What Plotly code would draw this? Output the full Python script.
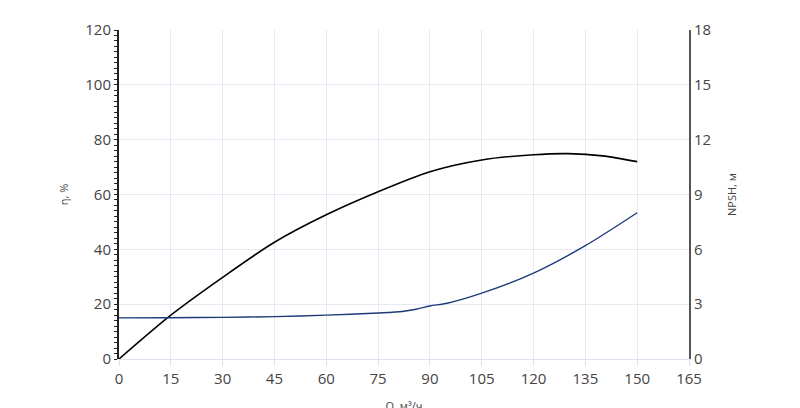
import plotly.graph_objects as go

q_eff = [0, 15, 30, 45, 60, 75, 90, 105, 120, 130, 140, 150]
eff = [0, 16, 29.8, 42.6, 52.6, 61, 68.3, 72.6, 74.5, 74.9, 74.1, 72]
q_npsh = [0, 15, 30, 45, 60, 75, 82, 86, 90, 95, 105, 120, 135, 150]
npsh = [2.25, 2.26, 2.28, 2.32, 2.4, 2.52, 2.6, 2.72, 2.9, 3.05, 3.6, 4.7, 6.2, 8.0]

fig = go.Figure()
fig.add_trace(go.Scatter(x=q_eff, y=eff, mode="lines", line=dict(color="black", width=1.6, shape="spline", smoothing=0.8), showlegend=False))
fig.add_trace(go.Scatter(x=q_npsh, y=npsh, mode="lines", yaxis="y2", line=dict(color="#1f3a7a", width=1.4, shape="spline", smoothing=0.8), showlegend=False))

tf = dict(family="Open Sans", size=15, color="#444")
fig.update_layout(
    width=800, height=408, margin=dict(l=111, r=119, t=22, b=57, autoexpand=False),
    plot_bgcolor="white", paper_bgcolor="white", font=dict(family="Open Sans"),
    xaxis=dict(range=[0, 165], tickvals=list(range(0, 166, 15)), showgrid=True, gridcolor="#e6e9f2",
               tickfont=tf, zeroline=False, showline=True, linecolor="#dde2f0", ticks="outside", ticklen=6, tickcolor="#dde2f0",
               automargin=False, title=dict(text="Q, м³/ч", font=dict(size=11, color="#444"))),
    yaxis=dict(range=[0, 120], dtick=20, showgrid=True, gridcolor="#e6e9f2", tickfont=tf, zeroline=False,
               showline=True, linecolor="#222", linewidth=2, ticks="outside", ticklen=3, tickcolor="#222",
               minor=dict(dtick=2, ticks="outside", ticklen=3, tickcolor="#222", showgrid=False),
               automargin=False, title=dict(text="η, %", font=dict(size=11, color="#444"), standoff=14)),
    yaxis2=dict(range=[0, 18], dtick=3, overlaying="y", side="right", showgrid=False, tickfont=tf, zeroline=False,
                showline=True, linecolor="#555", linewidth=2, ticks="",
                automargin=False, title=dict(text="NPSH, м", font=dict(size=11, color="#444"), standoff=18)),
)
fig.write_html("out.html")
